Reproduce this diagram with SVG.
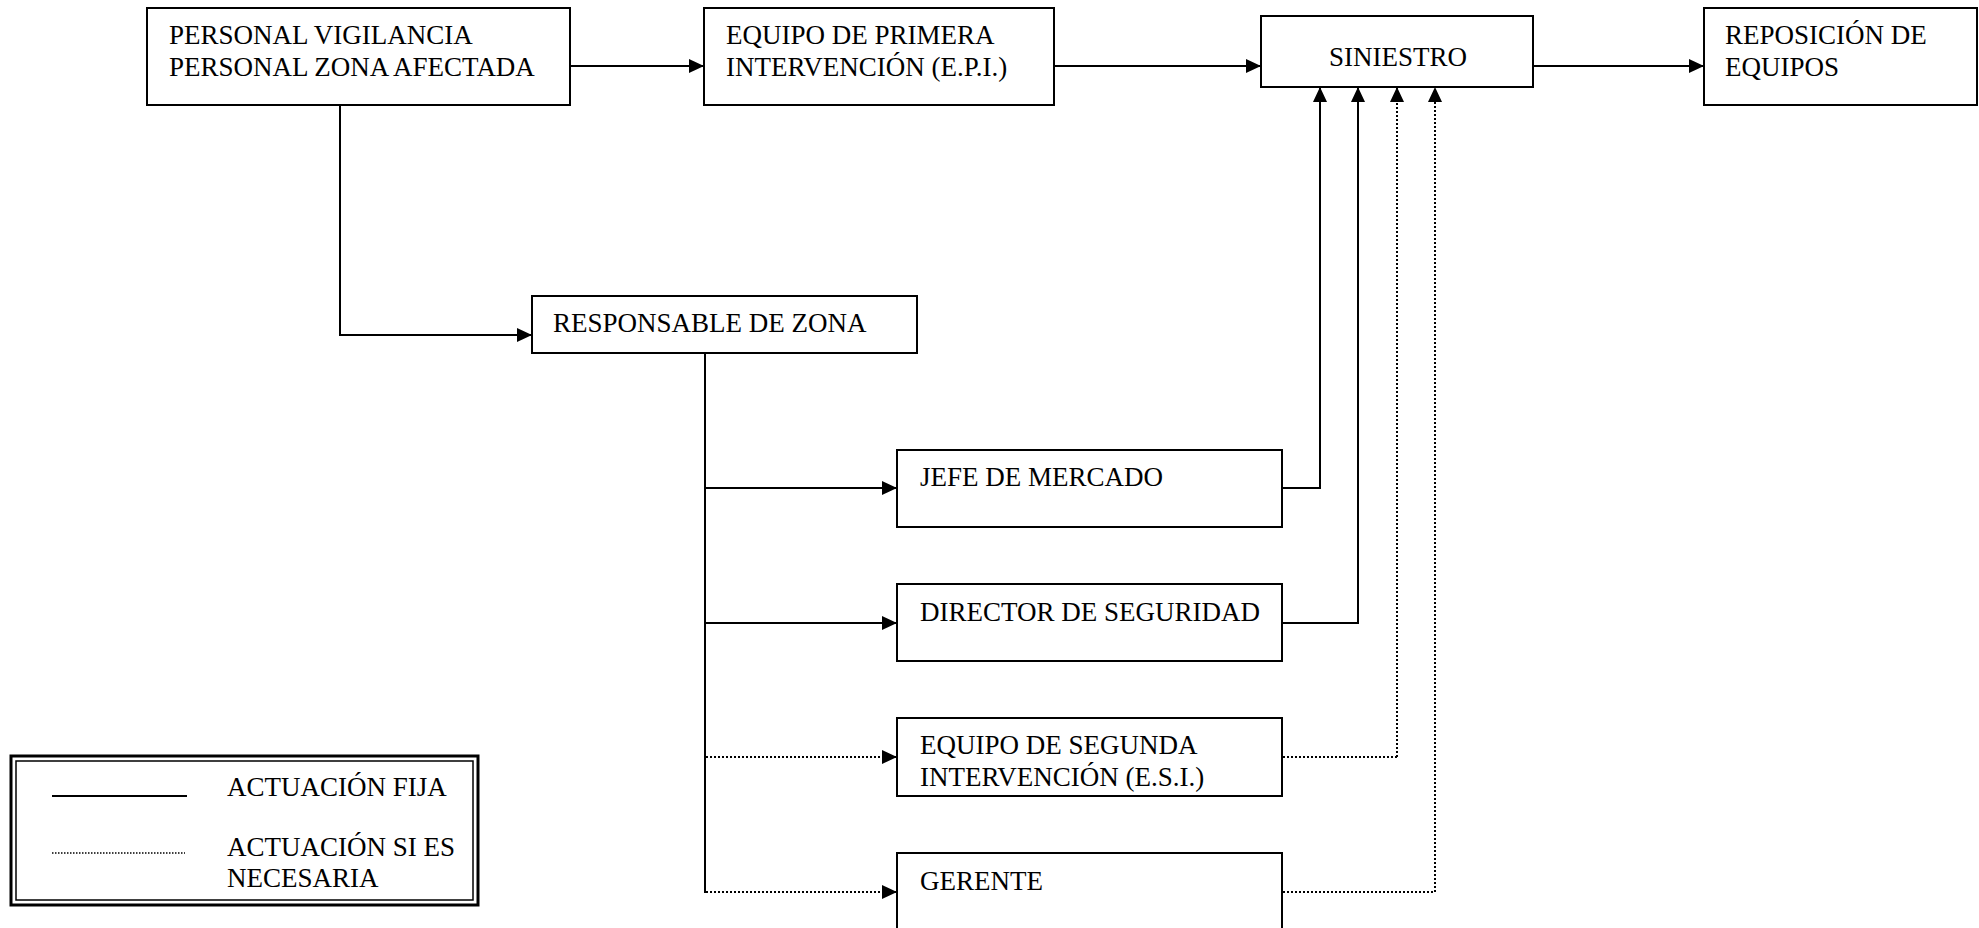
<svg xmlns="http://www.w3.org/2000/svg" width="1979" height="928" viewBox="0 0 1979 928">
<style>
.box{fill:#fff;stroke:#000;stroke-width:2}
.t{font-family:"Liberation Serif","Times New Roman",serif;font-size:27px;fill:#000}
.c{fill:none;stroke:#000;stroke-width:2}
.d{fill:none;stroke:#000;stroke-width:2;stroke-dasharray:2 2}
.dh{fill:none;stroke:#000;stroke-width:2;stroke-dasharray:2 2}
</style>
<defs>
<marker id="ah" viewBox="0 0 15 14" refX="15" refY="7" markerWidth="15" markerHeight="14" markerUnits="userSpaceOnUse" orient="auto">
<path d="M0,0 L15,7 L0,14 z" fill="#000"/>
</marker>
</defs>
<rect width="1979" height="928" fill="#fff"/>
<g id="connectors">
<path class="c" d="M570,66 H704" marker-end="url(#ah)"/>
<path class="c" d="M1054,66 H1261" marker-end="url(#ah)"/>
<path class="c" d="M1533,66 H1704" marker-end="url(#ah)"/>
<path class="c" d="M340,105 V335 H532" marker-end="url(#ah)"/>
<path class="c" d="M705,353 V893"/>
<path class="c" d="M705,488 H897" marker-end="url(#ah)"/>
<path class="c" d="M705,623 H897" marker-end="url(#ah)"/>
<path class="dh" d="M706,757 H897" marker-end="url(#ah)"/>
<path class="dh" d="M706,892 H897" marker-end="url(#ah)"/>
<path class="c" d="M1282,488 H1320 V87" marker-end="url(#ah)"/>
<path class="c" d="M1282,623 H1358 V87" marker-end="url(#ah)"/>
<path class="dh" d="M1283,757 H1397"/>
<path class="d" d="M1397,757 V87" marker-end="url(#ah)"/>
<path class="dh" d="M1283,892 H1435"/>
<path class="d" d="M1435,892 V87" marker-end="url(#ah)"/>
</g>
<g id="personal">
<rect class="box" x="147" y="8" width="423" height="97"/>
<text class="t" x="169" y="44">PERSONAL VIGILANCIA</text>
<text class="t" x="169" y="76">PERSONAL ZONA AFECTADA</text>
</g>
<g id="epi">
<rect class="box" x="704" y="8" width="350" height="97"/>
<text class="t" x="726" y="44">EQUIPO DE PRIMERA</text>
<text class="t" x="726" y="76">INTERVENCIÓN (E.P.I.)</text>
</g>
<g id="siniestro">
<rect class="box" x="1261" y="16" width="272" height="71"/>
<text class="t" x="1398" y="66" text-anchor="middle">SINIESTRO</text>
</g>
<g id="reposicion">
<rect class="box" x="1704" y="8" width="273" height="97"/>
<text class="t" x="1725" y="44">REPOSICIÓN DE</text>
<text class="t" x="1725" y="76">EQUIPOS</text>
</g>
<g id="responsable">
<rect class="box" x="532" y="296" width="385" height="57"/>
<text class="t" x="553" y="332">RESPONSABLE DE ZONA</text>
</g>
<g id="jefe">
<rect class="box" x="897" y="450" width="385" height="77"/>
<text class="t" x="920" y="486">JEFE DE MERCADO</text>
</g>
<g id="director">
<rect class="box" x="897" y="584" width="385" height="77"/>
<text class="t" x="920" y="621">DIRECTOR DE SEGURIDAD</text>
</g>
<g id="esi">
<rect class="box" x="897" y="718" width="385" height="78"/>
<text class="t" x="920" y="754">EQUIPO DE SEGUNDA</text>
<text class="t" x="920" y="786">INTERVENCIÓN (E.S.I.)</text>
</g>
<g id="gerente">
<rect class="box" x="897" y="853" width="385" height="85"/>
<text class="t" x="920" y="890">GERENTE</text>
</g>
<g id="legend">
<rect x="11" y="756" width="467" height="149" fill="none" stroke="#000" stroke-width="3"/>
<rect x="16" y="761" width="457" height="139" fill="none" stroke="#000" stroke-width="1.5"/>
<line x1="52" y1="796" x2="187" y2="796" stroke="#000" stroke-width="2"/>
<line x1="52" y1="853" x2="185" y2="853" stroke="#000" stroke-width="1.5" stroke-dasharray="1.5 1.5"/>
<text class="t" x="227" y="796">ACTUACIÓN FIJA</text>
<text class="t" x="227" y="856">ACTUACIÓN SI ES</text>
<text class="t" x="227" y="887">NECESARIA</text>
</g>
</svg>
